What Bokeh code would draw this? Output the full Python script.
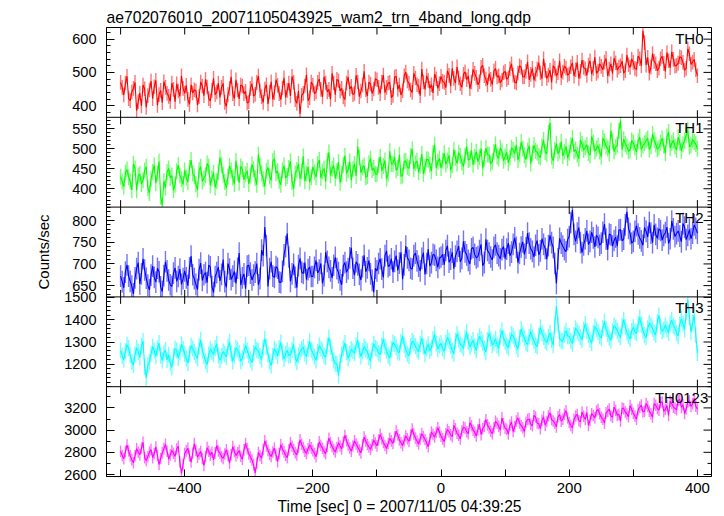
import math
from bokeh.plotting import figure
from bokeh.models import Range1d, FixedTicker, Label, Span, ColumnDataSource, Title
from bokeh.embed import file_html
from bokeh.resources import INLINE

# ---------------- data ----------------
# samples every 2.5 s: the "_grid" lists hold t = -500, -495, ..., 400,
# the "_half" lists hold t = -497.5, -492.5, ..., 397.5
times = [-500 + 2.5 * i for i in range(361)]

th0_grid = [470, 432, 488, 415, 452, 385, 438, 462, 395, 447, 421, 476, 433, 409, 455, 428, 468, 412, 444, 490,
            437, 419, 463, 448, 402, 471, 430, 456, 414, 482, 441, 425, 467, 398, 452, 436, 478, 420, 459, 443,
            411, 466, 434, 489, 427, 450, 405, 472, 439, 461, 418, 484, 446, 429, 470, 407, 375, 437, 493, 424,
            462, 441, 480, 426, 468, 449, 497, 433, 475, 452, 419, 486, 458, 437, 471, 444, 503, 429, 465, 450,
            478, 436, 492, 455, 470, 431, 488, 462, 445, 501, 467, 440, 483, 458, 510, 449, 476, 463, 495, 452,
            488, 470, 505, 459, 482, 517, 466, 494, 478, 451, 509, 485, 472, 521, 480, 496, 463, 512, 490, 477,
            503, 484, 526, 471, 498, 515, 487, 532, 494, 476, 510, 499, 541, 482, 507, 520, 489, 535, 501, 513,
            496, 528, 508, 482, 537, 511, 522, 495, 546, 504, 518, 531, 489, 526, 543, 507, 520, 498, 552, 515,
            530, 509, 541, 625, 522, 498, 557, 526, 513, 548, 503, 535, 562, 519, 528, 544, 507, 571, 524, 539, 490]
th0_half = [455, 468, 421, 441, 470, 412, 399, 451, 430, 474, 457, 401, 446, 472, 437, 413, 449, 466, 428, 452,
            461, 404, 438, 445, 427, 459, 479, 421, 446, 433, 468, 455, 410, 433, 487, 421, 447, 462, 436, 408,
            452, 429, 470, 445, 410, 463, 441, 419, 478, 436, 453, 425, 468, 488, 418, 444, 431, 459, 415, 471,
            436, 470, 449, 487, 441, 419, 468, 479, 444, 426, 468, 450, 433, 491, 427, 462, 448, 471, 436, 481,
            455, 471, 439, 468, 424, 486, 449, 432, 490, 474, 447, 497, 463, 430, 471, 490, 452, 438, 481, 466,
            473, 454, 491, 512, 468, 483, 455, 502, 489, 471, 497, 463, 515, 490, 462, 479, 504, 486, 468, 499,
            479, 511, 492, 468, 520, 486, 503, 478, 512, 495, 529, 481, 506, 492, 470, 513, 499, 484, 519, 492,
            517, 489, 530, 503, 515, 491, 535, 512, 497, 526, 508, 542, 510, 497, 529, 516, 534, 505, 523, 540,
            512, 549, 520, 590, 545, 516, 533, 505, 541, 527, 560, 514, 539, 521, 547, 530, 512, 556, 531, 508]

th1_grid = [430, 405, 448, 418, 462, 396, 437, 421, 455, 389, 442, 414, 468, 358, 403, 451, 433, 410, 459, 424,
            446, 417, 472, 431, 398, 455, 426, 463, 409, 440, 419, 478, 435, 402, 457, 428, 470, 415, 449, 436,
            412, 461, 427, 486, 439, 405, 453, 421, 476, 444, 410, 458, 432, 469, 400, 447, 425, 481, 438, 416,
            455, 429, 472, 443, 418, 491, 450, 426, 467, 437, 483, 447, 421, 462, 505, 440, 458, 431, 476, 452,
            436, 480, 457, 425, 494, 462, 446, 485, 433, 470, 451, 499, 464, 441, 487, 456, 473, 444, 510, 468,
            452, 489, 471, 446, 498, 463, 482, 455, 506, 474, 460, 493, 479, 451, 502, 485, 468, 511, 476, 494,
            481, 465, 503, 488, 472, 517, 484, 496, 463, 509, 491, 478, 522, 487, 565, 470, 513, 495, 482, 506,
            490, 527, 498, 475, 512, 503, 489, 531, 494, 508, 480, 519, 501, 546, 493, 510, 570, 524, 505, 497,
            515, 492, 530, 508, 521, 498, 537, 511, 503, 526, 489, 542, 514, 506, 529, 495, 520, 548, 509, 517, 500]
th1_half = [418, 441, 429, 397, 451, 433, 412, 446, 402, 425, 459, 438, 380, 419, 442, 427, 396, 444, 433, 411,
            428, 452, 439, 411, 447, 418, 434, 456, 426, 403, 441, 459, 417, 430, 446, 412, 439, 456, 422, 445,
            433, 448, 410, 457, 424, 445, 431, 469, 439, 420, 446, 427, 452, 417, 438, 462, 443, 419, 455, 429,
            441, 462, 427, 451, 470, 433, 458, 444, 415, 460, 438, 468, 449, 432, 478, 453, 429, 464, 446, 437,
            459, 445, 471, 438, 462, 479, 452, 431, 468, 455, 482, 449, 470, 458, 437, 474, 461, 489, 452, 476,
            470, 461, 484, 459, 477, 490, 466, 483, 472, 496, 480, 468, 501, 475, 486, 463, 492, 481, 503, 470,
            492, 478, 497, 510, 486, 501, 473, 508, 489, 495, 482, 506, 492, 540, 481, 497, 488, 518, 493, 477,
            509, 493, 486, 522, 497, 510, 484, 516, 501, 493, 527, 506, 488, 519, 504, 545, 498, 512, 494, 521,
            503, 519, 498, 514, 526, 507, 522, 499, 515, 508, 531, 502, 521, 497, 516, 511, 534, 505, 523, 512]

th2_grid = [672, 645, 698, 660, 631, 689, 654, 712, 667, 640, 695, 658, 682, 636, 705, 663, 648, 691, 671, 653,
            684, 650, 718, 666, 641, 702, 675, 657, 693, 634, 680, 661, 710, 646, 688, 672, 655, 725, 668, 643,
            697, 663, 681, 652, 732, 785, 648, 705, 669, 690, 657, 721, 770, 660, 699, 645, 713, 678, 664, 693,
            671, 708, 686, 655, 727, 692, 668, 715, 680, 652, 703, 689, 737, 674, 698, 663, 720, 691, 677, 635,
            684, 712, 669, 730, 697, 681, 719, 702, 665, 741, 708, 688, 725, 695, 713, 676, 734, 703, 720, 692,
            716, 698, 742, 711, 689, 729, 705, 752, 721, 700, 738, 714, 731, 696, 757, 725, 709, 744, 719, 733,
            712, 748, 727, 760, 703, 739, 722, 771, 735, 716, 754, 730, 745, 711, 766, 738, 655, 759, 741, 728,
            763, 825, 752, 784, 726, 758, 745, 773, 739, 761, 748, 792, 733, 767, 754, 741, 779, 757, 820, 770,
            752, 788, 760, 743, 775, 796, 749, 768, 781, 755, 772, 747, 799, 763, 776, 751, 785, 766, 758, 790, 771]
th2_half = [659, 681, 672, 649, 668, 703, 677, 686, 651, 674, 669, 690, 647, 673, 684, 652, 679, 660, 688, 666,
            668, 691, 675, 653, 687, 662, 680, 697, 648, 671, 693, 676, 659, 701, 664, 683, 690, 651, 677, 695,
            679, 674, 701, 666, 719, 742, 689, 672, 694, 658, 683, 740, 716, 677, 669, 696, 681, 703, 687, 671,
            692, 679, 701, 673, 706, 684, 697, 689, 663, 696, 681, 714, 690, 705, 676, 694, 682, 708, 662, 690,
            701, 688, 719, 694, 712, 706, 685, 727, 698, 714, 690, 719, 707, 684, 726, 701, 695, 722, 708, 713,
            722, 731, 704, 727, 718, 741, 713, 728, 708, 735, 722, 717, 745, 703, 731, 716, 738, 725, 712, 740,
            734, 719, 745, 738, 724, 751, 737, 748, 729, 743, 721, 758, 736, 742, 749, 701, 712, 748, 733, 756,
            795, 768, 771, 749, 744, 776, 752, 760, 766, 743, 773, 757, 769, 741, 762, 778, 753, 790, 782, 748,
            775, 769, 753, 784, 762, 771, 790, 759, 777, 766, 785, 758, 781, 770, 764, 793, 756, 779, 771, 782]

th3_grid = [1262, 1221, 1288, 1240, 1197, 1275, 1231, 1304, 1140, 1210, 1279, 1236, 1295, 1218, 1264, 1243, 1186, 1271, 1229, 1290,
            1247, 1205, 1283, 1255, 1226, 1310, 1238, 1199, 1268, 1245, 1292, 1219, 1257, 1233, 1301, 1213, 1274, 1250, 1228, 1286,
            1241, 1208, 1279, 1260, 1222, 1315, 1246, 1195, 1270, 1237, 1298, 1224, 1263, 1242, 1289, 1211, 1256, 1277, 1234, 1303,
            1253, 1218, 1284, 1261, 1232, 1320, 1249, 1203, 1150, 1244, 1296, 1227, 1267, 1250, 1309, 1235, 1280, 1258, 1215, 1292,
            1270, 1243, 1312, 1261, 1229, 1298, 1276, 1252, 1327, 1265, 1238, 1304, 1282, 1257, 1319, 1246, 1290, 1273, 1335, 1268,
            1294, 1259, 1321, 1283, 1248, 1337, 1290, 1272, 1345, 1278, 1309, 1262, 1326, 1297, 1254, 1340, 1286, 1314, 1271, 1352,
            1301, 1275, 1336, 1312, 1268, 1359, 1318, 1290, 1347, 1305, 1280, 1366, 1323, 1297, 1341, 1286, 1460, 1315, 1302, 1350,
            1327, 1293, 1362, 1338, 1309, 1381, 1330, 1296, 1369, 1345, 1318, 1392, 1336, 1307, 1374, 1351, 1322, 1400, 1343, 1314,
            1367, 1339, 1410, 1352, 1321, 1385, 1360, 1332, 1419, 1348, 1375, 1341, 1398, 1363, 1327, 1405, 1356, 1490, 1345, 1420, 1250]
th3_half = [1238, 1259, 1273, 1212, 1244, 1256, 1282, 1190, 1196, 1247, 1262, 1271, 1239, 1251, 1220, 1207, 1235, 1262, 1253, 1270,
            1226, 1248, 1271, 1239, 1281, 1261, 1215, 1244, 1257, 1273, 1240, 1236, 1246, 1277, 1249, 1241, 1266, 1214, 1257, 1262,
            1222, 1251, 1266, 1237, 1274, 1278, 1212, 1238, 1258, 1273, 1253, 1247, 1240, 1265, 1230, 1239, 1269, 1249, 1270, 1264,
            1235, 1256, 1270, 1239, 1283, 1278, 1218, 1203, 1209, 1272, 1255, 1248, 1259, 1286, 1263, 1258, 1267, 1231, 1262, 1274,
            1251, 1285, 1279, 1240, 1267, 1290, 1258, 1301, 1287, 1247, 1281, 1295, 1266, 1291, 1279, 1272, 1260, 1312, 1292, 1285,
            1271, 1298, 1305, 1261, 1306, 1311, 1283, 1318, 1301, 1292, 1280, 1305, 1313, 1272, 1309, 1315, 1297, 1285, 1324, 1318,
            1285, 1309, 1326, 1283, 1319, 1335, 1297, 1323, 1321, 1287, 1328, 1340, 1305, 1322, 1308, 1375, 1383, 1306, 1333, 1327,
            1306, 1331, 1348, 1322, 1355, 1349, 1310, 1340, 1357, 1326, 1363, 1358, 1319, 1348, 1365, 1333, 1370, 1367, 1326, 1349,
            1346, 1380, 1378, 1331, 1362, 1374, 1342, 1391, 1370, 1356, 1357, 1383, 1372, 1340, 1379, 1382, 1430, 1412, 1387, 1330]

th0123_grid = [2810, 2742, 2865, 2768, 2705, 2833, 2779, 2891, 2726, 2802, 2751, 2848, 2690, 2795, 2872, 2738, 2816, 2763, 2854, 2610,
               2789, 2837, 2712, 2878, 2756, 2808, 2681, 2842, 2774, 2731, 2861, 2793, 2745, 2823, 2702, 2851, 2770, 2815, 2737, 2880,
               2786, 2730, 2615, 2799, 2746, 2903, 2817, 2762, 2838, 2715, 2869, 2804, 2752, 2888, 2825, 2776, 2912, 2843, 2790, 2867,
               2815, 2761, 2894, 2836, 2787, 2927, 2852, 2803, 2885, 2831, 2952, 2866, 2810, 2903, 2847, 2795, 2938, 2871, 2826, 2910,
               2858, 2962, 2889, 2834, 2925, 2880, 2991, 2912, 2861, 2947, 2898, 3010, 2929, 2875, 2968, 2915, 2851, 2983, 2937, 3021,
               2944, 2896, 3005, 2958, 3042, 2971, 2920, 3027, 2986, 3068, 2999, 2947, 3053, 3012, 3094, 3020, 2968, 3079, 3035, 3110,
               3016, 2965, 3072, 3031, 3108, 3040, 2987, 3095, 3053, 3132, 3064, 3013, 3119, 3078, 3156, 3082, 3029, 3141, 3097, 3175,
               3068, 3019, 3127, 3085, 3164, 3096, 3042, 3148, 3110, 3186, 3115, 3063, 3171, 3129, 3208, 3134, 3080, 3193, 3146, 3222,
               3151, 3098, 3205, 3163, 3240, 3169, 3117, 3224, 3180, 3256, 3187, 3132, 3239, 3196, 3268, 3204, 3149, 3251, 3212, 3285, 3190]
th0123_half = [2771, 2806, 2812, 2734, 2769, 2801, 2836, 2752, 2760, 2825, 2789, 2771, 2744, 2831, 2810, 2777, 2791, 2830, 2712, 2690,
               2813, 2770, 2791, 2819, 2784, 2744, 2762, 2810, 2801, 2795, 2812, 2760, 2785, 2771, 2778, 2806, 2795, 2764, 2822, 2833,
               2757, 2689, 2701, 2770, 2825, 2856, 2781, 2803, 2776, 2790, 2830, 2771, 2822, 2855, 2796, 2844, 2872, 2810, 2832, 2840,
               2789, 2830, 2862, 2808, 2855, 2888, 2826, 2844, 2857, 2893, 2904, 2838, 2857, 2874, 2820, 2866, 2902, 2848, 2867, 2884,
               2911, 2923, 2862, 2880, 2903, 2937, 2955, 2886, 2904, 2922, 2953, 2964, 2902, 2921, 2943, 2883, 2917, 2960, 2979, 2983,
               2921, 2968, 2985, 2940, 3011, 2954, 2992, 3018, 2967, 3039, 2981, 3004, 2959, 3036, 3047, 2990, 3021, 3062, 3001, 3058,
               3008, 3043, 2987, 3081, 3064, 3022, 3070, 3101, 3039, 3118, 3057, 3086, 3044, 3127, 3095, 3063, 3120, 3081, 3142, 3109,
               3042, 3096, 3141, 3074, 3125, 3160, 3089, 3131, 3172, 3148, 3097, 3155, 3190, 3116, 3177, 3142, 3199, 3164, 3121, 3186,
               3127, 3183, 3226, 3170, 3212, 3148, 3239, 3195, 3247, 3168, 3221, 3259, 3207, 3183, 3275, 3229, 3190, 3262, 3238, 3214]


def merge(grid, half):
    out = []
    for a, b in zip(grid[:-1], half):
        out.extend([a, b])
    out.append(grid[-1])
    return out


names = ["TH0", "TH1", "TH2", "TH3", "TH0123"]
series = [merge(th0_grid, th0_half), merge(th1_grid, th1_half), merge(th2_grid, th2_half),
          merge(th3_grid, th3_half), merge(th0123_grid, th0123_half)]
errors = [22, 20, 25, 36, 52]
panel_lo = [365, 354, 624, 1100, 2582]
panel_hi = [635, 579, 831, 1502, 3391]
major_ticks = [[400, 500, 600], [400, 450, 500, 550], [650, 700, 750, 800],
               [1200, 1300, 1400, 1500], [2600, 2800, 3000, 3200]]
minor_steps = [20, 10, 10, 20, 100]
x_major = [-400, -200, 0, 200, 400]
x_minor = [-500, -300, -100, 100, 300]
x_tick_labels = {-400: "\u2212400", -200: "\u2212200", 0: "0", 200: "200", 400: "400"}

title_text = "ae702076010_20071105043925_wam2_trn_4band_long.qdp"
x_title = "Time [sec] 0 = 2007/11/05 04:39:25"
y_title = "Counts/sec"

# ---------------- style ----------------
colors = ["#ff0000", "#00ff00", "#0000ff", "#00ffff", "#ff00ff"]
FONT = "Liberation Sans"
X0, X1 = -522, 422
FRAME_W, FRAME_H = 605, 449
PANEL_PX = FRAME_H / 5.0
XU_PER_PX = (X1 - X0) / FRAME_W
label_x = [409.5, 409.5, 409.5, 409.5, 417]

p = figure(frame_width=FRAME_W, frame_height=FRAME_H,
           x_range=Range1d(X0, X1), y_range=Range1d(0, 5),
           output_backend="svg", toolbar_location=None,
           min_border_left=106, min_border_right=13, min_border_top=27, min_border_bottom=40)
p.grid.visible = False
p.outline_line_color = "black"
p.outline_line_width = 1
p.background_fill_color = "white"
p.border_fill_color = "white"

major_pos, minor_pos, overrides = [], [], {}
for k in range(5):
    lo, hi = panel_lo[k], panel_hi[k]
    span = hi - lo
    base = 4 - k
    start = lo - base * span
    p.extra_y_ranges[names[k]] = Range1d(start, start + 5 * span)
    for v in major_ticks[k]:
        pos = round(base + (v - lo) / span, 6)
        major_pos.append(pos)
        overrides[pos] = str(v)
    step = minor_steps[k]
    m = math.ceil(lo / step) * step
    while m <= hi:
        if m not in major_ticks[k]:
            minor_pos.append(round(base + (m - lo) / span, 6))
        m += step

    vals = series[k]
    err = errors[k]
    src = ColumnDataSource(dict(
        t=times, v=vals,
        lo=[max(v - err, lo) for v in vals],
        hi=[min(v + err, hi) for v in vals]))
    p.segment(x0="t", y0="lo", x1="t", y1="hi", source=src, y_range_name=names[k],
              line_color=colors[k], line_alpha=0.55, line_width=1.4)
    p.line(x="t", y="v", source=src, y_range_name=names[k],
           line_color=colors[k], line_width=1.1)

    p.add_layout(Label(x=label_x[k], y=(5 - k) - 2.0 / PANEL_PX, text=names[k],
                       text_align="right", text_baseline="top",
                       text_font=FONT, text_font_size="15px", text_color="black"))

# left y axis (labels), ticks inward
ly = p.yaxis[0]
ly.ticker = FixedTicker(ticks=major_pos, minor_ticks=minor_pos)
ly.major_label_overrides = overrides
ly.major_label_text_font = FONT
ly.major_label_text_font_size = "14.5px"
ly.major_label_text_color = "black"
ly.major_label_standoff = 10
ly.major_tick_in = 8
ly.major_tick_out = 0
ly.minor_tick_in = 4
ly.minor_tick_out = 0
ly.axis_line_color = "black"

# bottom x axis
lx = p.xaxis[0]
lx.ticker = FixedTicker(ticks=x_major, minor_ticks=x_minor)
lx.major_label_overrides = x_tick_labels
lx.major_label_text_font = FONT
lx.major_label_text_font_size = "15px"
lx.major_label_text_color = "black"
lx.major_label_standoff = 6
lx.major_tick_in = 7
lx.major_tick_out = 0
lx.minor_tick_in = 7
lx.minor_tick_out = 0

# right-edge inward y ticks
rx_major = 8 * XU_PER_PX
rx_minor = 4 * XU_PER_PX
p.segment(x0=[X1] * len(major_pos), y0=major_pos, x1=[X1 - rx_major] * len(major_pos), y1=major_pos,
          line_color="black", line_width=1)
p.segment(x0=[X1] * len(minor_pos), y0=minor_pos, x1=[X1 - rx_minor] * len(minor_pos), y1=minor_pos,
          line_color="black", line_width=1)

# panel separators, and inward x ticks at every horizontal edge above the bottom one
x_all = sorted(x_major + x_minor)
tick_len = 7.0 / PANEL_PX
for b in [1, 2, 3, 4]:
    p.add_layout(Span(location=b, dimension="width", line_color="black", line_width=1))
    p.segment(x0=x_all, y0=[b - tick_len] * len(x_all), x1=x_all,
              y1=[b + tick_len] * len(x_all), line_color="black", line_width=1)
p.segment(x0=x_all, y0=[5 - tick_len] * len(x_all), x1=x_all, y1=[5] * len(x_all),
          line_color="black", line_width=1)

# titles
p.title.text = title_text
p.title.align = "left"
p.title.text_font = FONT
p.title.text_font_size = "15.7px"
p.title.text_font_style = "normal"
p.title.text_color = "black"
p.title.standoff = 4

p.add_layout(Title(text=x_title, align="left", offset=171, standoff=0,
                   text_font=FONT, text_font_size="15.6px", text_font_style="normal",
                   text_color="black"), "below")
p.add_layout(Title(text=y_title, align="center", offset=-5, standoff=20,
                   text_font=FONT, text_font_size="15px", text_font_style="normal",
                   text_color="black"), "left")

open("out.html", "w").write(file_html(p, INLINE))
